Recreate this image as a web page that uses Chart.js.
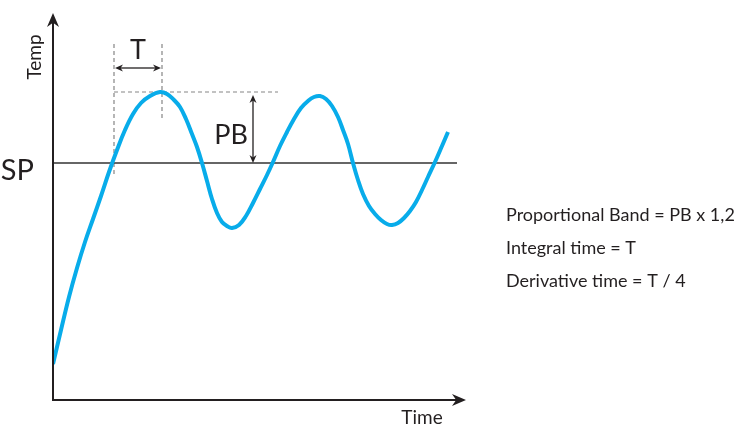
<!DOCTYPE html>
<html>
<head>
<meta charset="utf-8">
<script src="https://cdn.jsdelivr.net/npm/chart.js@4"></script>
<style>
  html, body { margin: 0; padding: 0; background: #fff; }
  #wrap { width: 739px; height: 425px; }
</style>
</head>
<body>
<div id="wrap"><canvas id="grafico"></canvas></div>
<script>
// pontos da curva (tempo, temperatura)
const tempo = [
    0, 8, 16, 24, 32, 40, 48, 56, 64, 72, 80, 88, 97, 107,
    114, 121, 127, 133, 139, 144, 149, 154, 159, 164, 169, 174, 179,
    186, 193, 200, 207, 214, 220, 227, 234, 241, 248, 255, 261, 267,
    273, 279, 285, 290, 295, 300, 305, 310, 316, 322, 328, 334, 339,
    345, 351, 357, 363, 369, 375, 382, 389, 395
];
const temperatura = [
    36, 70, 103, 132, 158, 181, 204, 228, 250, 270, 286, 297, 304, 308,
    306, 300, 293, 281, 266, 253, 237, 219, 201, 187, 178, 174, 172,
    175, 184, 197, 211, 225, 238, 254, 268, 281, 292, 299, 303, 304,
    301, 294, 283, 270, 256, 237, 220, 206, 194, 186, 180, 176, 175,
    177, 182, 189, 198, 210, 223, 238, 254, 268
];

// setpoint
const spValor = 237;
const spFim = 404;

// marcas do T e do PB
const tInicio = 61;
const tFim = 109;
const picoTemp = 308;
const topoTracejado = 356;
const baseTracejado1 = 223;
const baseTracejado2 = 282;
const fimTracejadoH = 225;
const alturaSetaT = 332;
const xSetaPB = 200;
const topoSetaPB = 305;

// textos
const textosLegenda = ['Proportional Band = PB x 1,2', 'Integral time = T', 'Derivative time = T / 4'];

const corTexto = '#231f20';
const corCurva = '#08acea';
const corTracejado = '#858585';
const fonte = 'Lato';

const pontosCurva = tempo.map((t, i) => ({ x: t, y: temperatura[i] }));

function seta(ctx, x1, y1, x2, y2, comp, larg) {
    const ang = Math.atan2(y2 - y1, x2 - x1);
    ctx.beginPath();
    ctx.moveTo(x1, y1);
    ctx.lineTo(x2 - Math.cos(ang) * comp * 0.6, y2 - Math.sin(ang) * comp * 0.6);
    ctx.stroke();
    ctx.save();
    ctx.translate(x2, y2);
    ctx.rotate(ang);
    ctx.beginPath();
    ctx.moveTo(0, 0);
    ctx.lineTo(-comp, -larg / 2);
    ctx.lineTo(-comp * 0.7, 0);
    ctx.lineTo(-comp, larg / 2);
    ctx.closePath();
    ctx.fill();
    ctx.restore();
}

const desenhos = {
    id: 'desenhos',
    afterDatasetsDraw(chart) {
        const ctx = chart.ctx;
        const xs = chart.scales.x;
        const ys = chart.scales.y;
        const area = chart.chartArea;
        ctx.save();
        ctx.strokeStyle = corTexto;
        ctx.fillStyle = corTexto;

        // eixos com setas
        ctx.lineWidth = 2;
        seta(ctx, area.left, area.bottom + 1, area.left, area.top - 1, 14, 12);
        seta(ctx, area.left - 1, area.bottom, area.right, area.bottom, 14, 12);

        // seta do T
        ctx.lineWidth = 1.3;
        const yT = ys.getPixelForValue(alturaSetaT);
        seta(ctx, xs.getPixelForValue((tInicio + tFim) / 2), yT, xs.getPixelForValue(tInicio) + 1, yT, 8, 7);
        seta(ctx, xs.getPixelForValue((tInicio + tFim) / 2), yT, xs.getPixelForValue(tFim) - 1, yT, 8, 7);

        // seta do PB
        const xPB = xs.getPixelForValue(xSetaPB);
        const meioPB = ys.getPixelForValue((topoSetaPB + spValor) / 2);
        seta(ctx, xPB, meioPB, xPB, ys.getPixelForValue(topoSetaPB), 8, 7);
        seta(ctx, xPB, meioPB, xPB, ys.getPixelForValue(spValor), 8, 7);

        // textos
        ctx.textAlign = 'center';
        ctx.textBaseline = 'middle';
        ctx.font = `27px ${fonte}`;
        ctx.fillText('T', xs.getPixelForValue((tInicio + tFim) / 2), ys.getPixelForValue(350));
        ctx.fillText('PB', xs.getPixelForValue(178), ys.getPixelForValue(265));

        ctx.font = `29px ${fonte}`;
        ctx.textAlign = 'right';
        ctx.textBaseline = 'alphabetic';
        ctx.fillText('SP', area.left - 19, ys.getPixelForValue(spValor) + 17);

        ctx.font = `19px ${fonte}`;
        ctx.textAlign = 'center';
        ctx.fillText('Time', area.right - 44, area.bottom + 24);

        ctx.save();
        ctx.translate(area.left - 18, area.top + 43);
        ctx.rotate(-Math.PI / 2);
        ctx.textBaseline = 'middle';
        ctx.fillText('Temp', 0, 0);
        ctx.restore();

        ctx.font = `18px ${fonte}`;
        ctx.textAlign = 'left';
        textosLegenda.forEach((linha, i) => {
            ctx.fillText(linha, 506, 221 + i * 33);
        });
        ctx.restore();
    }
};

function linhaTracejada(pontos) {
    return {
        data: pontos,
        borderColor: corTracejado,
        borderWidth: 1.2,
        borderDash: [4, 3],
        pointRadius: 0,
        showLine: true
    };
}

new Chart(document.getElementById('grafico'), {
    type: 'scatter',
    data: {
        datasets: [
            {
                data: pontosCurva,
                borderColor: corCurva,
                borderWidth: 4,
                pointRadius: 0,
                showLine: true,
                tension: 0.4
            },
            {
                data: [{ x: 0, y: spValor }, { x: spFim, y: spValor }],
                borderColor: '#333333',
                borderWidth: 1.6,
                pointRadius: 0,
                showLine: true
            },
            linhaTracejada([{ x: tInicio, y: topoTracejado }, { x: tInicio, y: baseTracejado1 }]),
            linhaTracejada([{ x: tFim, y: topoTracejado }, { x: tFim, y: baseTracejado2 }]),
            linhaTracejada([{ x: tInicio, y: picoTemp }, { x: fimTracejadoH, y: picoTemp }])
        ]
    },
    options: {
        responsive: true,
        maintainAspectRatio: false,
        animation: false,
        layout: { padding: { left: 53, top: 14, right: 273, bottom: 25 } },
        plugins: {
            legend: { display: false },
            tooltip: { enabled: false }
        },
        scales: {
            x: { type: 'linear', min: 0, max: 413, display: false },
            y: { min: 0, max: 386, display: false }
        }
    },
    plugins: [desenhos]
});
</script>
</body>
</html>
